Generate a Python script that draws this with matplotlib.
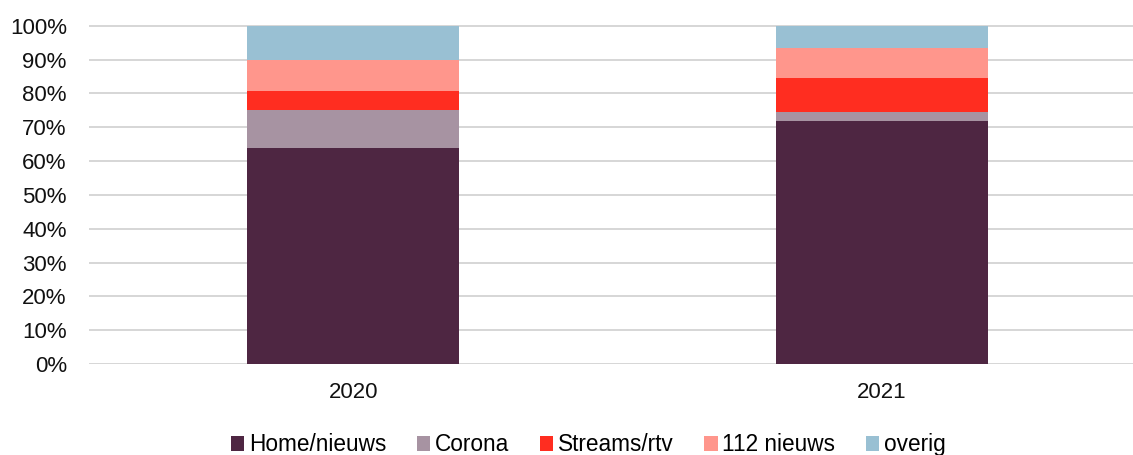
import matplotlib
matplotlib.use("Agg")
import matplotlib.pyplot as plt
import numpy as np

plt.rcParams['font.family'] = ['Liberation Sans', 'DejaVu Sans']

years = ["2020", "2021"]
series = ["Home/nieuws", "Corona", "Streams/rtv", "112 nieuws", "overig"]
home = [63.9, 71.9]
corona = [11.2, 2.7]
streams = [5.6, 10.0]
nieuws112 = [9.3, 8.7]
overig = [10.0, 6.7]
colors = ["#4E2642", "#A793A2", "#FF2D20", "#FF968C", "#99C0D3"]
yticks = [0, 10, 20, 30, 40, 50, 60, 70, 80, 90, 100]

W, H = 1133, 455
fig = plt.figure(figsize=(W / 100, H / 100), dpi=100)
left = 89 / W
bottom = 1 - 364 / H
top_px = 25.7 - 0.02 * 338.3
ax = fig.add_axes([left, bottom, 1 - left, (364 - top_px) / H])

x = np.arange(len(years))
data = [home, corona, streams, nieuws112, overig]
base = np.zeros(len(years))
handles = []
for vals, name, c in zip(data, series, colors):
    v = np.array(vals) / 100.0
    b = ax.bar(x, v, 0.401, bottom=base, color=c, label=name, zorder=3)
    handles.append(b)
    base += v

ax.set_xlim(-0.5, -0.5 + (W - 89) / 528.5)
ax.set_ylim(0, 1.02)
ax.set_yticks([t / 100 for t in yticks])
ax.set_yticklabels([f"{t}%" for t in yticks])
ax.set_xticks(x)
ax.set_xticklabels(years)
ax.tick_params(axis='both', length=0, labelsize=16, colors='#111111')
ax.tick_params(axis='y', pad=16)
ax.tick_params(axis='x', pad=13)
for s in ax.spines.values():
    s.set_visible(False)
ax.yaxis.grid(True, color='#D6D6D6', linewidth=1.4, zorder=0)
ax.set_axisbelow(True)

fig.legend(handles=handles, labels=series, loc='center', bbox_to_anchor=(588 / W, 0.022),
           ncol=5, frameon=False, fontsize=16.3, handlelength=0.6, handleheight=0.6,
           handletextpad=0.2, columnspacing=1.35, borderaxespad=0)

fig.savefig("out.png", dpi=100)
